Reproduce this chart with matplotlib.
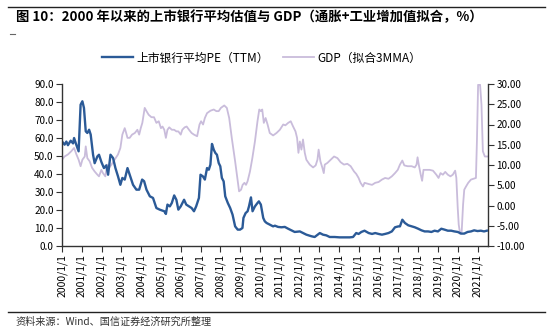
import matplotlib
matplotlib.use('Agg')
import matplotlib.pyplot as plt
from matplotlib.lines import Line2D
import numpy as np

plt.rcParams['font.family'] = ['Noto Sans CJK SC', 'DejaVu Sans']

TITLE = '图 10：2000 年以来的上市银行平均估值与 GDP（通胀+工业增加值拟合，%）'
SOURCE = '资料来源：Wind、国信证券经济研究所整理'
PE_LABEL = '上市银行平均PE（TTM）'
GDP_LABEL = 'GDP（拟合3MMA）'

# listed bank average PE (TTM)
pe_t = [2000.00, 2000.13, 2000.22, 2000.30, 2000.44, 2000.56, 2000.61, 2000.73, 2000.84, 2000.94,
        2001.03, 2001.11, 2001.20, 2001.28, 2001.37, 2001.45, 2001.57, 2001.65, 2001.79, 2001.87,
        2001.99, 2002.12, 2002.24, 2002.33, 2002.45, 2002.58, 2002.70, 2002.83, 2002.95, 2003.05,
        2003.17, 2003.31, 2003.42, 2003.59, 2003.76, 2003.90, 2004.05, 2004.15, 2004.27, 2004.44,
        2004.60, 2004.77, 2004.94, 2005.17, 2005.25, 2005.33, 2005.45, 2005.55, 2005.67, 2005.78,
        2005.88, 2006.00, 2006.17, 2006.28, 2006.42, 2006.55, 2006.67, 2006.78, 2006.92, 2007.00,
        2007.12, 2007.22, 2007.33, 2007.42, 2007.50, 2007.58, 2007.67, 2007.75, 2007.83, 2007.92,
        2008.00, 2008.08, 2008.17, 2008.25, 2008.38, 2008.50, 2008.62, 2008.75, 2008.88, 2009.00,
        2009.12, 2009.17, 2009.28, 2009.38, 2009.45, 2009.55, 2009.63, 2009.75, 2009.88, 2009.95,
        2010.05, 2010.08, 2010.17, 2010.25, 2010.34, 2010.50, 2010.67, 2010.76, 2010.92, 2011.09,
        2011.26, 2011.43, 2011.60, 2011.76, 2012.02, 2012.18, 2012.35, 2012.61, 2012.77, 2013.03,
        2013.19, 2013.36, 2013.53, 2013.78, 2014.03, 2014.29, 2014.54, 2014.71, 2014.87, 2014.99,
        2015.13, 2015.29, 2015.50, 2015.67, 2015.83, 2016.00, 2016.17, 2016.33, 2016.50, 2016.67,
        2016.83, 2017.00, 2017.08, 2017.20, 2017.33, 2017.50, 2017.67, 2017.83, 2018.00, 2018.17,
        2018.33, 2018.50, 2018.67, 2018.83, 2019.00, 2019.17, 2019.33, 2019.50, 2019.67, 2019.83,
        2020.00, 2020.17, 2020.33, 2020.50, 2020.67, 2020.83, 2021.00, 2021.17, 2021.33, 2021.47]
pe_val = [58.1, 56.3, 58.0, 56.0, 58.5, 57.0, 60.0, 56.0, 52.6, 78.5,
          80.4, 76.7, 63.7, 62.8, 64.6, 61.9, 50.7, 46.0, 49.8, 50.7,
          46.7, 43.3, 44.8, 39.6, 50.7, 48.9, 43.3, 38.7, 34.0, 37.8,
          36.9, 43.3, 39.6, 34.0, 31.3, 31.3, 36.9, 36.0, 31.3, 27.6,
          26.7, 21.1, 20.2, 19.3, 17.8, 23.0, 22.0, 23.9, 28.1, 25.7,
          20.2, 22.0, 25.7, 23.0, 22.0, 21.1, 19.3, 22.0, 26.7, 39.6,
          38.7, 36.9, 43.3, 42.4, 45.2, 56.7, 53.5, 51.7, 50.7, 46.1,
          44.3, 37.8, 35.9, 27.6, 23.9, 21.1, 17.4, 10.9, 9.1, 9.1,
          10.0, 15.6, 18.3, 19.3, 22.0, 27.0, 19.3, 22.0, 23.9, 24.8,
          23.0, 21.1, 15.6, 13.7, 12.8, 11.9, 10.9, 11.3, 10.6, 10.4,
          10.6, 9.6, 8.7, 7.8, 8.1, 7.2, 6.3, 5.4, 5.0, 7.2,
          6.3, 5.9, 5.0, 5.0, 4.8, 4.8, 4.8, 5.0, 7.2, 6.7,
          7.8, 8.5, 7.2, 6.7, 7.2, 6.7, 6.3, 6.7, 7.2, 8.1,
          10.4, 10.9, 10.9, 14.6, 12.8, 11.5, 10.9, 10.4, 9.6, 8.7,
          8.1, 8.1, 7.8, 8.5, 8.1, 9.6, 9.1, 8.5, 8.5, 8.1,
          7.8, 6.9, 6.9, 7.8, 8.1, 8.7, 8.3, 8.5, 8.1, 8.5]

# fitted GDP (inflation + industrial value added, 3MMA), right axis
gdp_t = [2000.00, 2000.13, 2000.30, 2000.47, 2000.61, 2000.73, 2000.84, 2000.94, 2001.03, 2001.15,
         2001.20, 2001.28, 2001.40, 2001.52, 2001.65, 2001.79, 2001.87, 2001.99, 2002.07, 2002.19,
         2002.28, 2002.38, 2002.50, 2002.66, 2002.83, 2002.95, 2003.05, 2003.17, 2003.22, 2003.31,
         2003.42, 2003.54, 2003.68, 2003.81, 2003.90, 2003.98, 2004.06, 2004.18, 2004.27, 2004.38,
         2004.52, 2004.65, 2004.77, 2004.89, 2005.00, 2005.08, 2005.17, 2005.25, 2005.33, 2005.42,
         2005.55, 2005.67, 2005.78, 2005.88, 2006.00, 2006.08, 2006.20, 2006.30, 2006.42, 2006.55,
         2006.67, 2006.83, 2006.95, 2007.03, 2007.13, 2007.22, 2007.33, 2007.50, 2007.67, 2007.80,
         2007.92, 2008.03, 2008.20, 2008.33, 2008.45, 2008.58, 2008.75, 2008.88, 2008.95, 2009.05,
         2009.13, 2009.22, 2009.30, 2009.38, 2009.50, 2009.62, 2009.75, 2009.88, 2009.97, 2010.05,
         2010.12, 2010.20, 2010.29, 2010.39, 2010.50, 2010.67, 2010.84, 2011.01, 2011.18, 2011.29,
         2011.43, 2011.56, 2011.68, 2011.80, 2011.88, 2011.95, 2012.02, 2012.10, 2012.18, 2012.27,
         2012.35, 2012.52, 2012.69, 2012.82, 2012.91, 2012.97, 2013.06, 2013.16, 2013.23, 2013.28,
         2013.41, 2013.58, 2013.75, 2013.92, 2014.08, 2014.25, 2014.42, 2014.59, 2014.76, 2014.87,
         2014.99, 2015.09, 2015.21, 2015.29, 2015.50, 2015.67, 2015.83, 2016.00, 2016.17, 2016.33,
         2016.50, 2016.67, 2016.83, 2016.97, 2017.08, 2017.20, 2017.30, 2017.47, 2017.67, 2017.83,
         2017.92, 2017.97, 2018.03, 2018.13, 2018.20, 2018.27, 2018.42, 2018.58, 2018.75, 2018.92,
         2019.03, 2019.13, 2019.25, 2019.37, 2019.50, 2019.63, 2019.75, 2019.87, 2019.93, 2020.00,
         2020.05, 2020.12, 2020.20, 2020.27, 2020.33, 2020.42, 2020.53, 2020.67, 2020.80, 2020.92,
         2020.97, 2021.03, 2021.13, 2021.20, 2021.27, 2021.37, 2021.50]
gdp_val = [11.3, 12.1, 12.6, 13.4, 14.2, 12.6, 11.3, 9.7, 11.3, 12.1,
           14.6, 11.7, 10.9, 9.3, 8.4, 7.6, 7.2, 8.8, 8.0, 7.2,
           10.1, 9.3, 10.1, 11.3, 12.6, 14.2, 17.5, 19.1, 18.3, 16.7,
           16.7, 17.5, 17.9, 18.7, 17.5, 19.1, 20.4, 24.1, 23.3, 22.4,
           21.8, 21.8, 20.4, 20.8, 19.1, 19.5, 18.7, 16.7, 18.7, 19.3,
           18.7, 18.7, 18.3, 18.3, 17.5, 18.7, 19.3, 19.5, 18.7, 17.9,
           17.5, 17.1, 20.0, 20.8, 20.0, 21.6, 22.8, 23.4, 23.7, 23.3,
           23.3, 24.1, 24.7, 24.1, 21.6, 16.7, 10.9, 6.0, 3.5, 3.9,
           5.1, 5.6, 5.1, 6.0, 8.4, 11.7, 15.8, 20.8, 23.7, 23.3,
           23.7, 20.4, 21.6, 20.0, 17.9, 17.3, 17.9, 18.7, 20.0, 19.8,
           20.4, 20.8, 19.5, 18.3, 16.7, 13.0, 15.8, 13.8, 16.3, 13.0,
           11.3, 10.1, 9.4, 9.9, 11.3, 13.8, 10.9, 9.3, 8.0, 10.1,
           10.5, 11.3, 12.1, 11.7, 10.7, 10.1, 10.3, 9.7, 8.4, 7.8,
           6.8, 5.6, 4.7, 5.6, 5.3, 5.1, 5.6, 5.8, 6.4, 6.8,
           6.6, 7.2, 8.0, 8.8, 10.1, 11.1, 9.9, 9.7, 9.7, 9.4,
           10.1, 11.9, 10.1, 7.6, 6.1, 8.8, 8.8, 8.8, 8.6, 7.6,
           6.8, 8.0, 7.6, 8.3, 7.6, 7.2, 7.6, 8.6, 6.8, -0.6,
           -4.7, -7.0, -6.4, 0.2, 3.9, 4.7, 5.6, 6.4, 6.6, 6.8,
           15.8, 29.8, 29.8, 24.9, 13.4, 12.1, 12.1]

years = list(range(2000, 2022))
year_labels = [f'{y}/1/1' for y in years]

PE_COLOR = '#2b5a97'
GDP_COLOR = '#c9bcdb'
AXIS_COLOR = '#333333'

fig = plt.figure(figsize=(5.5, 3.31), dpi=100)
ax = fig.add_axes([62 / 550, 1 - 246 / 331, 426 / 550, 162 / 331])
ax2 = ax.twinx()

ax2.plot(gdp_t, gdp_val, color=GDP_COLOR, lw=1.3)
ax.plot(pe_t, pe_val, color=PE_COLOR, lw=1.7)
ax.set_zorder(ax2.get_zorder() + 1)
ax.patch.set_visible(False)

ax.set_xlim(2000.0, 2021.53)
ax.set_ylim(0, 90)
ax2.set_ylim(-10, 30)
ax.set_yticks(np.arange(0, 91, 10))
ax.set_yticklabels([f'{v:.1f}' for v in np.arange(0, 91, 10)])
ax2.set_yticks(np.arange(-10, 31, 5))
ax2.set_yticklabels([f'{v:.2f}' for v in np.arange(-10, 31, 5)])
ax.set_xticks(years)
ax.set_xticklabels(year_labels, rotation=90)

for a in (ax, ax2):
    a.spines['top'].set_visible(False)
    for s in ('left', 'right', 'bottom'):
        a.spines[s].set_color(AXIS_COLOR)
        a.spines[s].set_linewidth(1.0)
    a.tick_params(axis='both', direction='out', length=4, width=0.8,
                  color=AXIS_COLOR, labelsize=7.2, labelcolor='black', pad=2)
ax.spines['right'].set_visible(False)
ax2.spines['left'].set_visible(False)
ax2.spines['bottom'].set_visible(False)
ax.tick_params(axis='x', labelsize=7.5, pad=2)

# header / footer decorations
fig.add_artist(Line2D([8 / 550, 545 / 550], [1 - 7 / 331, 1 - 7 / 331],
                      color='#222222', lw=1.0))
fig.add_artist(Line2D([10 / 550, 15 / 550], [1 - 34 / 331, 1 - 34 / 331],
                      color='#666666', lw=0.8))
fig.add_artist(Line2D([8 / 550, 545 / 550], [1 - 312 / 331, 1 - 312 / 331],
                      color='#222222', lw=1.0))
fig.text(16 / 550, 1 - 17 / 331, TITLE, fontsize=9.6, fontweight='bold',
         va='center', ha='left')
fig.text(15 / 550, 1 - 322 / 331, SOURCE, fontsize=7.3, va='center', ha='left',
         color='#333333')

handles = [Line2D([], [], color=PE_COLOR, lw=1.7), Line2D([], [], color=GDP_COLOR, lw=1.3)]
fig.legend(handles, [PE_LABEL, GDP_LABEL], loc='center', ncol=2, frameon=False,
           bbox_to_anchor=(262 / 550, 1 - 58 / 331), fontsize=8.5, handlelength=2.6,
           handletextpad=0.3, columnspacing=1.2)

fig.savefig('out.png', dpi=100)
